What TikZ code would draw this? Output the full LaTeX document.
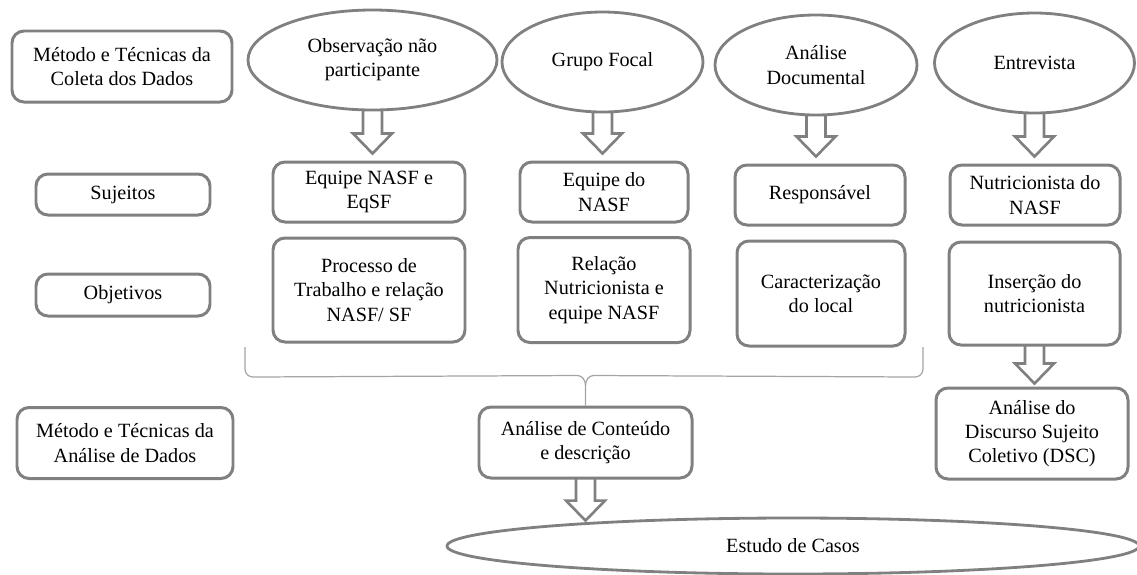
\documentclass[tikz,border=0pt]{standalone}
\usepackage{fontspec}
\setmainfont{Liberation Serif}
\usetikzlibrary{shapes.geometric,calc}

\definecolor{linegray}{RGB}{128,128,128}
\definecolor{bracegray}{RGB}{165,165,165}

\tikzset{
  etapa/.style={draw=linegray, line width=1.7pt, rounded corners=0.24cm, align=center, inner sep=2pt, font=\fontsize{11.5}{13.8}\selectfont},
  tecnica/.style={ellipse, draw=linegray, line width=1.6pt, align=center, inner sep=0pt, font=\fontsize{11.5}{13.8}\selectfont},
  seta/.style={draw=linegray, line width=1.5pt, line join=miter},
  chave/.style={draw=bracegray, line width=0.7pt}
}

\newcommand{\blockarrow}[3][0.14cm]{%
  \draw[seta] let \p1=(#2.south), \p2=(#3.north) in
    (\x1-0.19cm,\y1+0.03cm) -- (\x1-0.19cm,\y2+#1+0.4cm) -- (\x1-0.39cm,\y2+#1+0.4cm)
    -- (\x1,\y2+#1) -- (\x1+0.39cm,\y2+#1+0.4cm) -- (\x1+0.19cm,\y2+#1+0.4cm)
    -- (\x1+0.19cm,\y1+0.03cm);}

\begin{document}
\begin{tikzpicture}

\useasboundingbox (0,0) rectangle (22.74,-11.48);

\node[etapa, minimum width=4.4cm, minimum height=1.42cm] (coleta) at (2.44,-1.33) {Método e Técnicas da\\Coleta dos Dados};
\node[etapa, minimum width=3.48cm, minimum height=0.82cm] (sujeitos) at (2.46,-3.89) {Sujeitos};
\node[etapa, minimum width=3.48cm, minimum height=0.84cm] (objetivos) at (2.46,-5.9) {Objetivos};
\node[etapa, minimum width=4.32cm, minimum height=1.42cm] (metanalise) at (2.5,-8.86) {Método e Técnicas da\\Análise de Dados};

\node[tecnica, minimum width=4.98cm, minimum height=2cm] (observacao) at (7.45,-1.2) {Observação não\\participante};
\node[tecnica, minimum width=4.02cm, minimum height=2cm] (grupo) at (12.05,-1.24) {Grupo Focal};
\node[tecnica, minimum width=4.04cm, minimum height=2cm] (documental) at (16.32,-1.3) {Análise\\Documental};
\node[tecnica, minimum width=4cm, minimum height=2cm] (entrevista) at (20.69,-1.26) {Entrevista};

\node[etapa, minimum width=3.84cm, minimum height=1.2cm] (eqnasf) at (7.38,-3.84) {Equipe NASF e\\EqSF};
\node[etapa, minimum width=3.36cm, minimum height=1.2cm] (eqdo) at (12.08,-3.84) {Equipe do\\NASF};
\node[etapa, minimum width=3.4cm, minimum height=1.2cm] (responsavel) at (16.4,-3.9) {Responsável};
\node[etapa, minimum width=3.4cm, minimum height=1.2cm] (nutri) at (20.7,-3.9) {Nutricionista do\\NASF};

\node[etapa, minimum width=3.84cm, minimum height=2.08cm] (processo) at (7.38,-5.8) {Processo de\\Trabalho e relação\\NASF/ SF};
\node[etapa, minimum width=3.44cm, minimum height=2.1cm] (relacao) at (12.08,-5.8) {Relação\\Nutricionista e\\equipe NASF};
\node[etapa, minimum width=3.36cm, minimum height=2.1cm] (caract) at (16.42,-5.87) {Caracterização\\do local};
\node[etapa, minimum width=3.42cm, minimum height=2.06cm] (insercao) at (20.69,-5.87) {Inserção do\\nutricionista};

\node[etapa, minimum width=4.26cm, minimum height=1.42cm] (conteudo) at (11.71,-8.85) {Análise de Conteúdo\\e descrição};
\node[etapa, minimum width=3.84cm, minimum height=1.82cm] (dsc) at (20.64,-8.67) {Análise do\\Discurso Sujeito\\Coletivo (DSC)};

\node[tecnica, minimum width=13.84cm, minimum height=1.12cm] (estudo) at (15.86,-10.92) {Estudo de Casos};

\blockarrow{observacao}{eqnasf}
\blockarrow{grupo}{eqdo}
\blockarrow{documental}{responsavel}
\blockarrow{entrevista}{nutri}
\blockarrow[0.06cm]{insercao}{dsc}
\blockarrow[-0.08cm]{conteudo}{estudo}

\coordinate (chaveesq) at (4.9,-6.94);
\coordinate (chavedir) at (18.46,-6.94);
\coordinate (chavemeio) at ($(conteudo.north)+(0,0.4)$);
\draw[chave] (chaveesq) -- ++(0,-0.44) to[out=-90,in=180] ++(0.16,-0.16) -- ($(chavemeio)+(-0.16,0.2)$) to[out=0,in=90] (chavemeio) -- (conteudo.north);
\draw[chave] (chavedir) -- ++(0,-0.44) to[out=-90,in=0] ++(-0.16,-0.16) -- ($(chavemeio)+(0.16,0.2)$) to[out=180,in=90] (chavemeio);

\end{tikzpicture}
\end{document}
